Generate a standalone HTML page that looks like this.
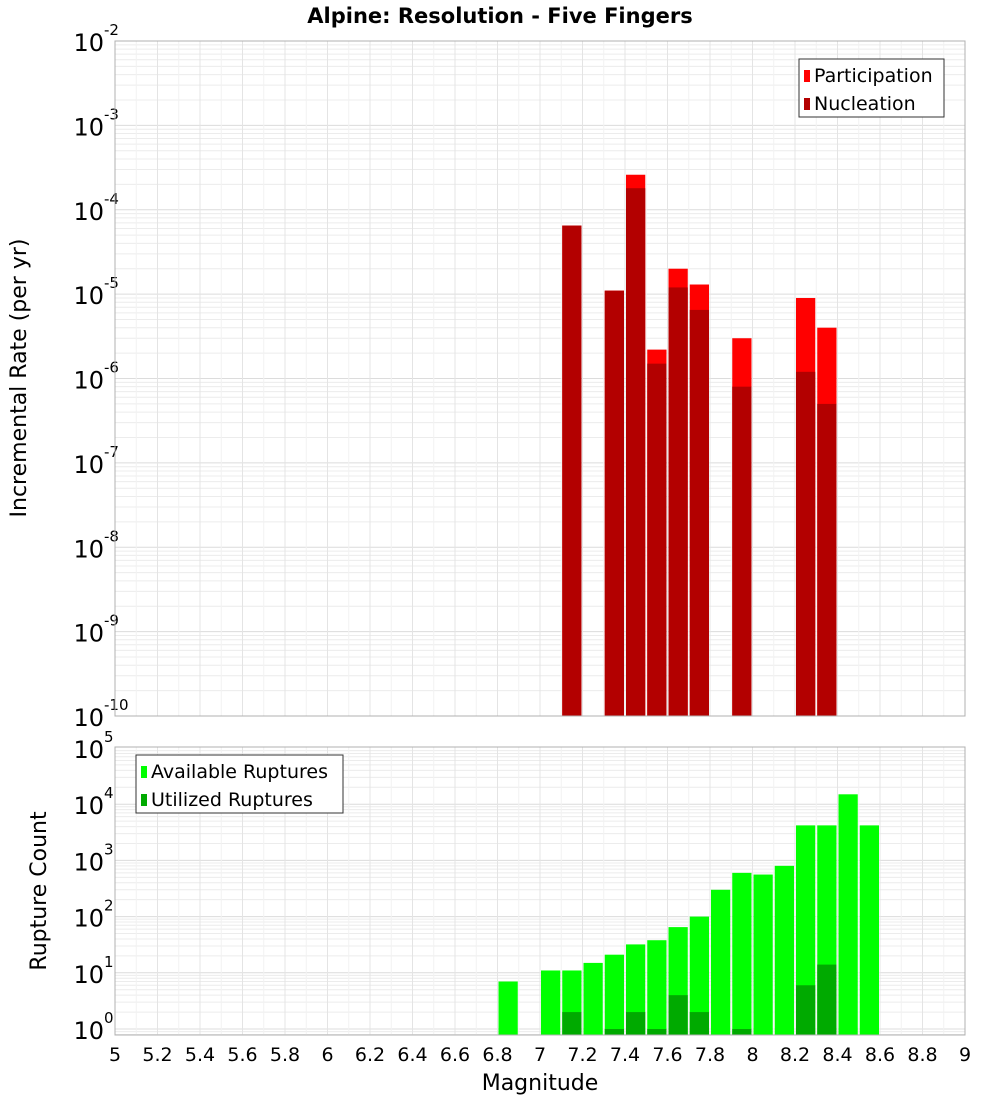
<!DOCTYPE html>
<html><head><meta charset="utf-8"><style>
body{margin:0;background:#fff;font-family:"Liberation Sans","DejaVu Sans",sans-serif}
svg text{font-family:"DejaVu Sans","Liberation Sans",sans-serif}
</style></head><body>
<svg id="chart" width="1000" height="1100" viewBox="0 0 1000 1100" xmlns="http://www.w3.org/2000/svg">
<text x="500" y="23" text-anchor="middle" font-size="21" font-weight="bold">Alpine: Resolution - Five Fingers</text>
<g id="topPanel"></g><g id="botPanel"></g>
<text transform="translate(26,378) rotate(-90)" text-anchor="middle" font-size="22">Incremental Rate (per yr)</text>
<text transform="translate(46,891) rotate(-90)" text-anchor="middle" font-size="22">Rupture Count</text>
<text x="540" y="1090" text-anchor="middle" font-size="22">Magnitude</text>
</svg>
<script>
const rateMags=[7.15,7.35,7.45,7.55,7.65,7.75,7.95,8.25,8.35];
const participation=[6.5e-5,1.1e-5,2.6e-4,2.2e-6,2e-5,1.3e-5,3e-6,9e-6,4e-6];
const nucleation=[6.5e-5,1.1e-5,1.8e-4,1.5e-6,1.2e-5,6.5e-6,8e-7,1.2e-6,5e-7];
const countMags=[6.85,7.05,7.15,7.25,7.35,7.45,7.55,7.65,7.75,7.85,7.95,8.05,8.15,8.25,8.35,8.45,8.55];
const available=[7,11,11,15,21,32,38,65,100,300,600,560,800,4200,4200,15000,4200];
const utilized=[0,0,2,0,1,2,1,4,2,0,1,0,0,6,14,0,0];
const xTicks=["5","5.2","5.4","5.6","5.8","6","6.2","6.4","6.6","6.8","7","7.2","7.4","7.6","7.8","8","8.2","8.4","8.6","8.8","9"];

const NS="http://www.w3.org/2000/svg";
const X0=115,X1=965;
const xs=m=>X0+(m-5)/4*(X1-X0);
const topY=v=>716-(Math.log10(v)+10)*84.375;
const botY=v=>1029-Math.log10(v)*56.2;
function mk(p,t,a){const e=document.createElementNS(NS,t);for(const k in a)e.setAttribute(k,a[k]);p.appendChild(e);return e;}
function panel(g,yt,yb,yfn,dmin,dmax){
  for(let d=dmin-1;d<dmax;d++)for(let k=1;k<10;k++){const y=yfn(k*Math.pow(10,d));if(y<yt||y>yb)continue;
    const l=mk(g,'line',{x1:X0,x2:X1,y1:y,y2:y,stroke:k==1?'#dcdcdc':'#ececec','stroke-width':1});
    
    }
  for(let i=0;i<=40;i++){const x=X0+i*(X1-X0)/40;
    const l=mk(g,'line',{x1:x,x2:x,y1:yt,y2:yb,stroke:i%2==0?'#e4e4e4':'#f2f2f2'});
    
    }
  for(let d=dmin;d<=dmax;d++){const y=yfn(Math.pow(10,d));
    const t=mk(g,'text',{x:104,y:y+10,'text-anchor':'end','font-size':24});
    
    
    t.textContent='10';
    const s=mk(g,'text',{x:104,y:y-6,'font-size':15});
    
    
    s.textContent=String(d);}
}
function frame(g,yt,yb,name){const r=mk(g,'rect',{x:X0,y:yt,width:X1-X0,height:yb-yt,fill:'none',stroke:'#b0b0b0'});
  
  }
function bar(g,m,v,fn,base,col,name){const y=fn(v);const x=xs(m-0.05)+1;
  const r=mk(g,'rect',{x:x,y:y,width:(X1-X0)/40-2,height:base-y,fill:col});
  
  }
const topG=document.getElementById('topPanel'),botG=document.getElementById('botPanel');
panel(topG,41,716,topY,-10,-2);
rateMags.forEach((m,i)=>bar(topG,m,participation[i],topY,716,'#ff0000','participation-bar'));
rateMags.forEach((m,i)=>bar(topG,m,nucleation[i],topY,716,'#b30000','nucleation-bar'));
frame(topG,41,716,'top-plot-frame');
panel(botG,747,1035,botY,0,5);
countMags.forEach((m,i)=>bar(botG,m,available[i],botY,1035,'#00ff00','available-bar'));
countMags.forEach((m,i)=>{if(utilized[i]>0)bar(botG,m,utilized[i],botY,1035,'#00aa00','utilized-bar');});
frame(botG,747,1035,'bottom-plot-frame');
xTicks.forEach(t=>{const e=mk(botG,'text',{x:xs(parseFloat(t)),y:1061,'text-anchor':'middle','font-size':19});
  
  
  e.textContent=t;});
function legend(g,x,y,w,items,name){const r=mk(g,'rect',{x:x,y:y,width:w,height:58,fill:'#fff',stroke:'#333'});
  
  
  items.forEach((it,i)=>{const s=mk(g,'rect',{x:x+5,y:y+11+i*28,width:6,height:12,fill:it[1]});
    
    
    const t=mk(g,'text',{x:x+15,y:y+23+i*28,'font-size':19});
    
    
    t.textContent=it[0];});}
legend(topG,799,59,145,[['Participation','#ff0000'],['Nucleation','#b30000']],'top-legend');
legend(botG,136,755,207,[['Available Ruptures','#00ff00'],['Utilized Ruptures','#00aa00']],'bottom-legend');
</script>
</body></html>
